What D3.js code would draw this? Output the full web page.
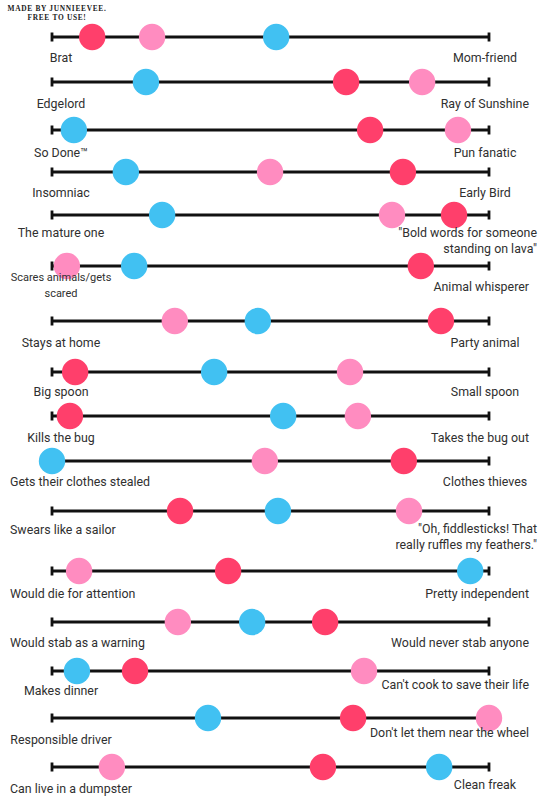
<!DOCTYPE html>
<html>
<head>
<meta charset="utf-8">
<script src="https://cdn.jsdelivr.net/npm/d3@7"></script>
<style>
  html, body { margin: 0; padding: 0; background: #fff; }
  svg { display: block; }
</style>
</head>
<body>
<svg id="chart" width="540" height="810"></svg>
<script>
// ---------- data ----------
const leftLabels = ["Brat", "Edgelord", "So Done™", "Insomniac", "The mature one",
  "Scares animals/gets\nscared", "Stays at home", "Big spoon", "Kills the bug",
  "Gets their clothes stealed", "Swears like a sailor", "Would die for attention",
  "Would stab as a warning", "Makes dinner", "Responsible driver", "Can live in a dumpster"];
const rightLabels = ["Mom-friend", "Ray of Sunshine", "Pun fanatic", "Early Bird",
  "\"Bold words for someone\nstanding on lava\"", "Animal whisperer", "Party animal",
  "Small spoon", "Takes the bug out", "Clothes thieves",
  "\"Oh, fiddlesticks! That\nreally ruffles my feathers.\"", "Pretty independent",
  "Would never stab anyone", "Can't cook to save their life",
  "Don't let them near the wheel", "Clean freak"];
const seriesNames = ["red", "pink", "blue"];
const redValues  = [9.2, 67.3, 72.8, 80.3, 92.0, 84.4, 89.0, 5.3, 4.1, 80.5, 29.3, 40.3, 62.5, 19.0, 68.9, 62.0];
const pinkValues = [22.9, 84.7, 92.9, 49.9, 77.8, 3.4, 28.1, 68.2, 70.0, 48.7, 81.7, 6.2, 28.8, 71.4, 100, 13.7];
const blueValues = [51.3, 21.5, 5.0, 16.9, 25.2, 18.8, 47.1, 37.1, 52.9, 0, 51.7, 95.7, 45.8, 5.7, 35.7, 88.6];
const credit = ["MADE BY JUNNIEEVEE.", "FREE TO USE!"];

// ---------- layout (not data) ----------
const rowY = [37, 82, 130, 172, 215, 266, 321, 372, 416, 461, 511, 571, 622, 671, 718, 767];
const leftDy  = [21, 22, 23, 21, 18, 11, 22, 20, 22, 21, 19, 23, 21, 20, 22, 22];
const rightDy = [21, 22, 23, 21, 18, 21, 22, 20, 22, 21, 18, 23, 21, 14, 15, 18];
const leftSize = [12.4, 12.4, 12.4, 12.4, 12.4, 11, 12.4, 12.4, 12.4, 12.4, 12.4, 12.4, 12.4, 12.4, 12.4, 12.4];
const colors = { red: "#ff3f6b", pink: "#ff8cc0", blue: "#41c1f2" };

const svg = d3.select("#chart");
const x = d3.scaleLinear().domain([0, 100]).range([52, 489]);
const rows = d3.range(leftLabels.length);

// credit text
svg.append("g").selectAll("text").data(credit).join("text")
  .attr("x", 57).attr("y", (d, i) => 11 + i * 9)
  .attr("text-anchor", "middle")
  .attr("font-family", "'Liberation Serif', 'DejaVu Serif', serif")
  .attr("font-weight", "bold")
  .attr("font-size", 7.4)
  .attr("letter-spacing", 0.7)
  .attr("fill", "#222")
  .text(d => d);

// slider lines
const g = svg.append("g");
g.selectAll("line.track").data(rows).join("line")
  .attr("class", "track")
  .attr("x1", x(0)).attr("x2", x(100))
  .attr("y1", i => rowY[i]).attr("y2", i => rowY[i])
  .attr("stroke", "#111").attr("stroke-width", 2.8);
[0, 100].forEach(v => {
  g.selectAll("line.tick" + v).data(rows).join("line")
    .attr("class", "tick" + v)
    .attr("x1", x(v)).attr("x2", x(v))
    .attr("y1", i => rowY[i] - 4.5).attr("y2", i => rowY[i] + 4.5)
    .attr("stroke", "#111").attr("stroke-width", 2.8);
});

// dots
const valuesBy = { red: redValues, pink: pinkValues, blue: blueValues };
const dots = [];
seriesNames.forEach(s => rows.forEach(i => dots.push({ s, i, v: valuesBy[s][i] })));
svg.append("g").selectAll("circle").data(dots).join("circle")
  .attr("cx", d => x(d.v))
  .attr("cy", d => rowY[d.i])
  .attr("r", 13.2)
  .attr("fill", d => colors[d.s]);

// labels (on top)
const font = "Roboto, 'Noto Sans', sans-serif";
const labelG = svg.append("g");
function drawLabel(text, i, side) {
  const lines = text.split("\n");
  const dy = side === "left" ? leftDy[i] : rightDy[i];
  const size = side === "left" ? leftSize[i] : 12.4;
  const t = labelG.append("text")
    .attr("font-family", font)
    .attr("font-size", size)
    .attr("fill", "#303030");
  lines.forEach((ln, k) => {
    t.append("tspan").attr("y", rowY[i] + dy + size * 0.355 + k * 16).text(ln);
  });
  const tsp = t.selectAll("tspan").nodes();
  const widths = tsp.map(n => n.getComputedTextLength());
  if (side === "left") {
    tsp.forEach((n, k) => {
      const w = widths[k];
      const left = Math.max(10, 61 - w / 2);
      d3.select(n).attr("x", left);
    });
  } else {
    if (lines.length > 1) {
      tsp.forEach(n => d3.select(n).attr("x", 537).attr("text-anchor", "end"));
    } else {
      const w = widths[0];
      const right = Math.min(529, 485 + w / 2);
      d3.select(tsp[0]).attr("x", right).attr("text-anchor", "end");
    }
  }
}
rows.forEach(i => {
  drawLabel(leftLabels[i], i, "left");
  drawLabel(rightLabels[i], i, "right");
});
</script>
</body>
</html>
